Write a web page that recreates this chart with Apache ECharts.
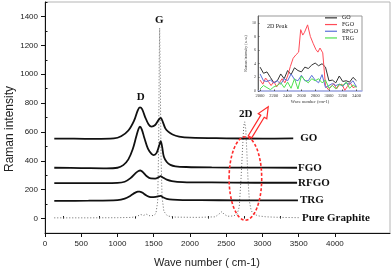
<!DOCTYPE html>
<html><head><meta charset="utf-8">
<script src="https://cdn.jsdelivr.net/npm/echarts@6/dist/echarts.min.js"></script>
<style>html,body{margin:0;padding:0;background:#fff}#c{width:392px;height:271px}</style>
</head><body><div id="c"></div>
<script>
// ---- main spectra (offset) ----
const GO_wave = [128, 400, 700, 950, 1050, 1150, 1230, 1280, 1310, 1340, 1380, 1430, 1470, 1520, 1565, 1596, 1625, 1660, 1700, 1760, 1850, 2000, 2500, 3000, 3425];
const GO_int  = [553, 553, 552, 555, 570, 610, 680, 750, 770, 758, 705, 652, 637, 648, 682, 697, 670, 625, 602, 582, 568, 560, 556, 554, 555];
const FGO_wave = [128, 500, 850, 1000, 1080, 1150, 1210, 1260, 1290, 1310, 1335, 1370, 1420, 1470, 1500, 1540, 1575, 1596, 1615, 1640, 1680, 1730, 1800, 1950, 2300, 2800, 3478];
const FGO_int  = [352, 350, 348, 352, 370, 410, 480, 570, 620, 636, 618, 560, 485, 448, 440, 455, 505, 537, 500, 428, 392, 372, 362, 357, 354, 353, 352];
const RFGO_wave = [128, 600, 1000, 1100, 1180, 1250, 1290, 1315, 1350, 1400, 1460, 1520, 1570, 1596, 1625, 1680, 1750, 1900, 2300, 2900, 3478];
const RFGO_int  = [246, 245, 247, 255, 280, 315, 330, 333, 322, 295, 278, 277, 287, 294, 285, 270, 260, 253, 250, 248, 248];
const TRG_wave = [128, 600, 1000, 1100, 1180, 1240, 1280, 1305, 1340, 1400, 1460, 1530, 1575, 1596, 1625, 1680, 1760, 1900, 2400, 3000, 3490];
const TRG_int  = [122, 124, 128, 138, 158, 178, 186, 187, 180, 160, 148, 150, 155, 157, 148, 137, 131, 128, 127, 126, 126];
const GR_wave = [128, 600, 1000, 1200, 1280, 1320, 1360, 1400, 1450, 1500, 1530, 1555, 1568, 1576, 1582, 1590, 1600, 1615, 1640, 1690, 1800, 2100, 2350, 2410, 2440, 2470, 2520, 2600, 2650, 2680, 2705, 2725, 2742, 2755, 2770, 2785, 2800, 2820, 2845, 2880, 2950, 3050, 3250, 3517];
const GR_int  = [5, 5, 6, 8, 18, 28, 22, 30, 18, 22, 35, 120, 500, 1100, 1320, 1000, 450, 150, 50, 18, 10, 8, 12, 35, 48, 30, 16, 18, 30, 80, 280, 480, 640, 670, 620, 460, 280, 120, 55, 30, 18, 12, 8, 6];
const SERIES_NAMES = ['GO', 'FGO', 'RFGO', 'TRG', 'Pure Graphite'];

// ---- inset (2D peak) ----
const INSET_wave = [2000, 2050, 2100, 2150, 2200, 2250, 2300, 2350, 2400, 2450, 2500, 2550, 2600, 2650, 2700, 2750, 2800, 2850, 2900, 2950, 3000, 3050, 3100, 3150, 3200, 3250, 3300, 3350, 3400];
const INSET_GO   = [3.5, 2.6, 2.8, 2.0, 1.2, 1.5, 2.5, 1.8, 3.0, 2.4, 3.4, 3.0, 2.8, 3.5, 3.3, 3.8, 4.1, 3.7, 4.0, 3.5, 1.5, 1.6, 1.2, 2.2, 1.4, 1.5, 1.3, 2.0, 1.5];
const INSET_RFGO = [2.5, 1.5, 1.4, 1.6, 1.2, 1.5, 1.0, 1.8, 1.5, 2.5, 1.7, 1.5, 2.3, 1.5, 1.5, 2.3, 1.6, 1.2, 2.4, 0.5, 0.8, 1.1, 0.8, 1.0, 0.7, 1.2, 1.0, 1.5, 0.6];
const INSET_TRG  = [0.3, 0.8, 0.5, 0.2, 0.6, 0.8, 1.2, 0.5, 1.3, 0.4, 1.8, 0.3, 2.2, 1.6, 1.2, 1.8, 1.5, 1.8, 1.2, 1.6, 0.4, 0.8, 0.3, 1.0, 0.8, 1.3, 0.4, 0.9, 0.5];
const INSET_FGO_wave = [2000, 2040, 2080, 2120, 2160, 2200, 2240, 2280, 2320, 2360, 2400, 2440, 2480, 2520, 2560, 2590, 2620, 2645, 2690, 2730, 2770, 2810, 2840, 2870, 2910, 2950, 2990, 3030, 3070, 3110, 3150, 3190, 3230, 3270, 3310, 3350, 3400];
const INSET_FGO      = [1.6, 1.0, 1.9, 1.4, 0.8, 1.4, 0.6, 1.2, 1.8, 1.2, 2.2, 3.6, 4.8, 5.3, 5.7, 9.0, 8.2, 8.6, 9.7, 8.0, 7.0, 6.1, 5.7, 6.3, 5.6, 0.8, 0.2, 0.6, 1.1, 0.3, 0.9, 1.0, 0.1, 0.7, 1.2, 0.5, 0.7];
const INSET_NAMES = ['GO', 'FGO', 'RFGO', 'TRG'];

// ---- ticks ----
const X_TICKS = [0, 500, 1000, 1500, 2000, 2500, 3000, 3500, 4000];
const X_MINOR = [250, 750, 1250, 1750, 2250, 2750, 3250, 3750];
const Y_TICKS = [0, 200, 400, 600, 800, 1000, 1200, 1400];
const Y_MINOR = [-100, 100, 300, 500, 700, 900, 1100, 1300, 1500];
const IX_TICKS = [2000, 2200, 2400, 2600, 2800, 3000, 3200, 3400];
const IY_TICKS = [0, 2, 4, 6, 8, 10];

const SANS = 'Liberation Sans, Arial, sans-serif';
const SERIF = 'Liberation Serif, Times New Roman, serif';
const pairs = (xs, ys) => xs.map((x, i) => [x, ys[i]]);
const plain = v => String(v);

const chart = echarts.init(document.getElementById('c'), null, {renderer: 'canvas'});

function mainLine(name, xs, ys, dist, dotted) {
  return {
    type: 'line', name: name, xAxisIndex: 0, yAxisIndex: 0,
    data: pairs(xs, ys), showSymbol: false, smooth: dotted ? false : 0.35, silent: true,
    lineStyle: dotted ? {color: '#666', width: 1, type: [1, 2]} : {color: '#111', width: 1.8},
    itemStyle: {color: dotted ? '#666' : '#111'},
    endLabel: {show: true, formatter: name, distance: dist, fontFamily: SERIF, fontWeight: 'bold', fontSize: 11, color: '#111'}
  };
}
const INSET_COLORS = ['#333333', '#ff4b57', '#5a6fd8', '#4fe04f'];
function insetLine(i, xs, ys) {
  return {
    type: 'line', name: INSET_NAMES[i] + ' (2D)', xAxisIndex: 2, yAxisIndex: 2,
    data: pairs(xs, ys), showSymbol: false, silent: true,
    lineStyle: {color: INSET_COLORS[i], width: 1}, itemStyle: {color: INSET_COLORS[i]}
  };
}

const option = {
  animation: false,
  grid: [
    {left: 45, top: 2, width: 345, height: 231, show: true, borderColor: '#b5b5b5', borderWidth: 1},
    {left: 258, top: 16, width: 104, height: 75, show: true, borderColor: '#999', borderWidth: 1, backgroundColor: '#fff'}
  ],
  xAxis: [
    {gridIndex: 0, type: 'value', min: 0, max: 4760,
      axisLine: {show: true, onZero: false, lineStyle: {color: '#111', width: 1}},
      axisTick: {show: true, inside: false, length: 4, customValues: X_TICKS, lineStyle: {color: '#111'}},
      axisLabel: {customValues: X_TICKS, formatter: plain, fontSize: 8, fontFamily: SANS, color: '#222', margin: 7},
      splitLine: {show: false}},
    {gridIndex: 0, type: 'value', min: 0, max: 4760,
      axisLine: {show: false}, axisLabel: {show: false}, splitLine: {show: false},
      axisTick: {show: true, inside: false, length: 2.5, customValues: X_MINOR, lineStyle: {color: '#111'}}},
    {gridIndex: 1, type: 'value', min: 1970, max: 3480,
      axisLine: {show: true, onZero: false, lineStyle: {color: '#a9b2f0', width: 1.5}},
      axisTick: {show: true, inside: true, length: 1.5, customValues: IX_TICKS, lineStyle: {color: '#555'}},
      axisLabel: {customValues: IX_TICKS, formatter: plain, fontSize: 4.5, fontFamily: SERIF, color: '#333', margin: 2},
      splitLine: {show: false},
      name: 'Wave number (cm-1)', nameLocation: 'middle', nameGap: 7,
      nameTextStyle: {fontSize: 4.5, fontFamily: SERIF, color: '#333'}}
  ],
  yAxis: [
    {gridIndex: 0, type: 'value', min: -100, max: 1500,
      axisLine: {show: true, onZero: false, lineStyle: {color: '#111', width: 1}},
      axisTick: {show: true, inside: false, length: 4, customValues: Y_TICKS, lineStyle: {color: '#111'}},
      axisLabel: {customValues: Y_TICKS, formatter: plain, fontSize: 8, fontFamily: SANS, color: '#222', margin: 7},
      splitLine: {show: false}},
    {gridIndex: 0, type: 'value', min: -100, max: 1500,
      axisLine: {show: false}, axisLabel: {show: false}, splitLine: {show: false},
      axisTick: {show: true, inside: false, length: 2.5, customValues: Y_MINOR, lineStyle: {color: '#111'}}},
    {gridIndex: 1, type: 'value', min: 0, max: 11,
      axisLine: {show: true, onZero: false, lineStyle: {color: '#666', width: 1}},
      axisTick: {show: true, inside: true, length: 1.5, customValues: IY_TICKS, lineStyle: {color: '#555'}},
      axisLabel: {customValues: IY_TICKS, formatter: plain, fontSize: 4, fontFamily: SERIF, color: '#333', margin: 2},
      splitLine: {show: false},
      name: 'Raman intensity (a. u.)', nameLocation: 'middle', nameGap: 5,
      nameTextStyle: {fontSize: 4, fontFamily: SERIF, color: '#333'}}
  ],
  legend: {
    data: INSET_NAMES.map(n => n + ' (2D)'), formatter: n => n.replace(' (2D)', ''),
    orient: 'vertical', left: 325, top: 14.5, padding: 0, itemGap: 0,
    icon: 'rect', itemWidth: 12, itemHeight: 1.2,
    textStyle: {fontFamily: SERIF, fontSize: 6, color: '#222', lineHeight: 6.7}
  },
  series: [
    mainLine(SERIES_NAMES[4], GR_wave, GR_int, 2, true),
    mainLine(SERIES_NAMES[0], GO_wave, GO_int, 7, false),
    mainLine(SERIES_NAMES[1], FGO_wave, FGO_int, 1, false),
    mainLine(SERIES_NAMES[2], RFGO_wave, RFGO_int, 1, false),
    mainLine(SERIES_NAMES[3], TRG_wave, TRG_int, 2, false),
    insetLine(0, INSET_wave, INSET_GO),
    insetLine(1, INSET_FGO_wave, INSET_FGO),
    insetLine(2, INSET_wave, INSET_RFGO),
    insetLine(3, INSET_wave, INSET_TRG)
  ]
};
chart.setOption(option);

// ---- annotations anchored to data coordinates ----
const px = (p) => chart.convertToPixel({gridIndex: 0}, p);
const pxi = (p) => chart.convertToPixel({gridIndex: 1}, p);
const peakText = (t, p) => {
  const q = px(p);
  return {type: 'text', x: q[0], y: q[1], z: 50,
    style: {text: t, fontFamily: SERIF, fontWeight: 'bold', fontSize: 11, fill: '#111', align: 'center', verticalAlign: 'middle'}};
};
const ellC = px([2765, 278]);
const ellE = px([2765 + 225, 278 + 289]);
const tail = px([2828, 566]);
const tip = px([3080, 774]);
const dx = tip[0] - tail[0], dy = tip[1] - tail[1];
const L = Math.hypot(dx, dy), ux = dx / L, uy = dy / L, nx = -uy, ny = ux;
const sw = 2, hw = 5, hl = 11;
const nk = [tip[0] - ux * hl, tip[1] - uy * hl];
const arrowPts = [
  [tail[0] + nx * sw, tail[1] + ny * sw], [nk[0] + nx * sw, nk[1] + ny * sw], [nk[0] + nx * hw, nk[1] + ny * hw],
  [tip[0], tip[1]],
  [nk[0] - nx * hw, nk[1] - ny * hw], [nk[0] - nx * sw, nk[1] - ny * sw], [tail[0] - nx * sw, tail[1] - ny * sw]
];
const t2d = pxi([2100, 9.5]);

chart.setOption({
  graphic: [
    peakText('D', [1320, 839]),
    peakText('G', [1577, 1375]),
    peakText('2D', [2768, 722]),
    {type: 'ellipse', z: 40, shape: {cx: ellC[0], cy: ellC[1], rx: Math.abs(ellE[0] - ellC[0]), ry: Math.abs(ellE[1] - ellC[1])},
      style: {fill: 'none', stroke: '#ff2a2a', lineWidth: 1.6, lineDash: [3, 2]}},
    {type: 'polygon', z: 45, shape: {points: arrowPts}, style: {fill: '#fff', stroke: '#ff2a2a', lineWidth: 1.2}},
    {type: 'text', x: 10, y: 129, rotation: Math.PI / 2, z: 50,
      style: {text: 'Raman intensity', fontFamily: SANS, fontSize: 12, fill: '#222', align: 'center', verticalAlign: 'middle'}},
    {type: 'text', x: 207, y: 263, z: 50,
      style: {text: 'Wave number ( cm-1)', fontFamily: SANS, fontSize: 11, fill: '#222', align: 'center', verticalAlign: 'middle'}},
    {type: 'text', x: t2d[0], y: t2d[1], z: 50,
      style: {text: '2D Peak', fontFamily: SERIF, fontSize: 6, fill: '#222', align: 'left', verticalAlign: 'middle'}}
  ]
});
</script>
</body></html>
